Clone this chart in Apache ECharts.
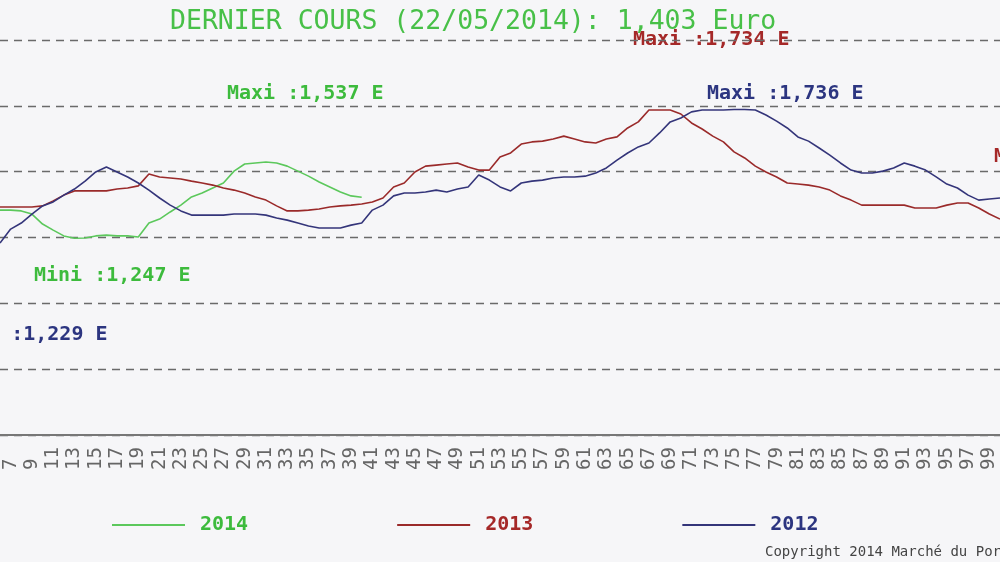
<!DOCTYPE html>
<html>
<head>
<meta charset="utf-8">
<script src="https://cdn.jsdelivr.net/npm/echarts@6/dist/echarts.min.js"></script>
<style>
html,body{margin:0;padding:0;background:#f6f6f8;overflow:hidden;}
#chart{width:1000px;height:562px;}
</style>
</head>
<body>
<div id="chart"></div>
<script>
// x positions: session numbers
var weeks = [6,7,8,9,10,11,12,13,14,15,16,17,18,19,20,21,22,23,24,25,26,27,28,29,30,31,32,33,34,35,36,37,38,39,40,
  41,42,43,44,45,46,47,48,49,50,51,52,53,54,55,56,57,58,59,60,61,62,63,64,65,66,67,68,69,70,
  71,72,73,74,75,76,77,78,79,80,81,82,83,84,85,86,87,88,89,90,91,92,93,94,95,96,97,98,99,100];
var tickLabels = [7,9,11,13,15,17,19,21,23,25,27,29,31,33,35,37,39,41,43,45,47,49,51,53,55,57,59,61,63,65,67,69,71,73,75,77,79,81,83,85,87,89,91,93,95,97,99];

// 2014 (weeks 6..40)
var values2014 = [1.354,1.354,1.351,1.339,1.301,1.278,1.256,1.247,1.248,1.256,1.259,1.256,1.256,1.252,1.305,1.320,1.347,1.373,1.404,1.419,
  1.438,1.457,1.502,1.529,1.533,1.537,1.533,1.521,1.502,1.483,1.461,1.442,1.423,1.408,1.403];
// 2013 (weeks 6..100)
var values2013 = [1.366,1.366,1.366,1.366,1.370,1.389,1.411,1.427,1.427,1.427,1.427,1.434,1.438,1.446,1.491,1.480,1.476,1.472,1.464,1.457,
  1.449,1.438,1.430,1.419,1.404,1.392,1.370,1.351,1.351,1.354,1.358,1.366,1.370,1.373,1.377,1.385,1.400,1.442,1.457,1.499,
  1.521,1.525,1.529,1.533,1.518,1.506,1.506,1.556,1.571,1.605,1.613,1.616,1.624,1.635,1.624,1.613,1.609,1.624,1.632,1.666,
  1.689,1.734,1.734,1.734,1.719,1.685,1.662,1.635,1.613,1.575,1.552,1.521,1.499,1.480,1.457,1.453,1.449,1.442,1.430,1.408,
  1.392,1.373,1.373,1.373,1.373,1.373,1.362,1.362,1.362,1.373,1.381,1.381,1.362,1.339,1.320];
// 2012 (weeks 6..100)
var values2012 = [1.229,1.282,1.305,1.339,1.370,1.385,1.411,1.434,1.464,1.499,1.518,1.499,1.480,1.457,1.430,1.400,1.373,1.351,1.335,1.335,
  1.335,1.335,1.339,1.339,1.339,1.335,1.324,1.316,1.305,1.294,1.286,1.286,1.286,1.297,1.305,1.354,1.373,1.408,1.419,1.419,
  1.423,1.430,1.423,1.434,1.442,1.487,1.468,1.442,1.427,1.457,1.464,1.468,1.476,1.480,1.480,1.483,1.495,1.514,1.544,1.571,
  1.594,1.609,1.647,1.689,1.704,1.727,1.734,1.734,1.734,1.736,1.736,1.734,1.715,1.692,1.666,1.632,1.616,1.590,1.563,1.533,
  1.506,1.495,1.495,1.502,1.514,1.533,1.521,1.506,1.480,1.453,1.438,1.411,1.392,1.396,1.400];

var seriesNames = ['2014','2013','2012'];
var lineColors = ['#5cc85c','#9a2a2a','#34357a'];
var textColors = ['#3dbb3d','#a52828','#2c3580'];

function pairs(vals){ return vals.map(function(v,i){ return [weeks[i], v]; }); }

var mono = 'DejaVu Sans Mono';
var chart = echarts.init(document.getElementById('chart'), null, {renderer:'canvas'});
chart.setOption({
  backgroundColor: '#f6f6f8',
  animation: false,
  title: {
    text: 'DERNIER COURS (22/05/2014): 1,403 Euro',
    left: 165, top: 4,
    textStyle: {fontFamily: mono, fontSize: 26.5, fontWeight: 'normal', color: '#48c048'}
  },
  legend: {
    left: 112, top: 515, padding: 0,
    itemWidth: 73, itemHeight: 2, itemGap: 149,
    icon: 'rect',
    data: seriesNames.map(function(n,i){ return {name: n, textStyle: {color: textColors[i]}}; }),
    textStyle: {fontFamily: mono, fontSize: 20, fontWeight: 'bold', padding: [0,0,0,10]}
  },
  grid: {left: -3, right: -3, top: 40, bottom: 127},
  xAxis: {
    type: 'value', min: 6, max: 100, interval: 1,
    axisLine: {show: true, lineStyle: {color: '#777', width: 2}},
    axisTick: {show: false},
    splitLine: {show: false},
    axisLabel: {
      rotate: 90, margin: 12,
      fontFamily: mono, fontSize: 19, color: '#666',
      formatter: function(v){
        if (tickLabels.indexOf(v) < 0) return '';
        return v < 10 ? v + ' ' : String(v);
      }
    }
  },
  yAxis: {
    type: 'value', min: 0.5, max: 2.0, interval: 0.25,
    axisLine: {show: false}, axisTick: {show: false}, axisLabel: {show: false},
    splitLine: {show: true, lineStyle: {color: '#6a6a6a', type: [8,6], width: 1.3}}
  },
  series: [
    {name: seriesNames[0], type: 'line', data: pairs(values2014), symbol: 'none',
     lineStyle: {color: lineColors[0], width: 1.6}, itemStyle: {color: lineColors[0]}},
    {name: seriesNames[1], type: 'line', data: pairs(values2013), symbol: 'none',
     lineStyle: {color: lineColors[1], width: 1.6}, itemStyle: {color: lineColors[1]}},
    {name: seriesNames[2], type: 'line', data: pairs(values2012), symbol: 'none',
     lineStyle: {color: lineColors[2], width: 1.6}, itemStyle: {color: lineColors[2]}}
  ],
  graphic: [
    {type: 'text', left: 227, top: 84, style: {text: 'Maxi :1,537 E', font: 'bold 20px ' + mono, fill: textColors[0]}},
    {type: 'text', left: 633, top: 30, style: {text: 'Maxi :1,734 E', font: 'bold 20px ' + mono, fill: textColors[1]}},
    {type: 'text', left: 707, top: 84, style: {text: 'Maxi :1,736 E', font: 'bold 20px ' + mono, fill: textColors[2]}},
    {type: 'text', left: 34, top: 266, style: {text: 'Mini :1,247 E', font: 'bold 20px ' + mono, fill: textColors[0]}},
    {type: 'text', x: -49, y: 325, style: {text: 'Mini :1,229 E', font: 'bold 20px ' + mono, fill: textColors[2]}},
    {type: 'text', x: 994, y: 147, style: {text: 'Mini', font: 'bold 20px ' + mono, fill: textColors[1]}},
    {type: 'text', left: 765, top: 545, style: {text: 'Copyright 2014 Marché du Porc Breton', font: '14px ' + mono, fill: '#444'}}
  ]
});
</script>
</body>
</html>
